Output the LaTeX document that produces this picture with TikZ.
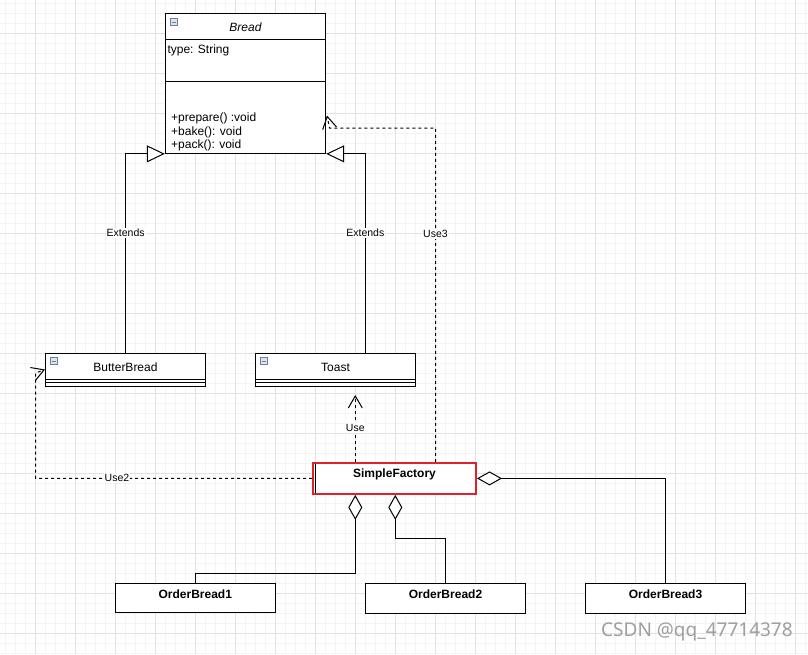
\documentclass[tikz,border=0pt]{standalone}
\usepackage{fontspec}
\setmainfont{Liberation Sans}
\newfontfamily\wmfont{Noto Sans}
\usetikzlibrary{arrows.meta}
\definecolor{gridmajor}{HTML}{E2E2E2}
\definecolor{gridminor}{HTML}{F4F4F4}
\definecolor{selred}{HTML}{E0202A}
\definecolor{iconborder}{HTML}{6F7F99}
\definecolor{iconfill}{HTML}{DCE4EE}
\tikzset{
  umlbox/.style={draw=black, line width=1pt, inner sep=0pt, fill=white},
  boxtext/.style={font=\fontsize{12}{14}\selectfont, inner sep=0pt},
  boldtext/.style={font=\fontsize{12}{14}\selectfont\bfseries, inner sep=0pt},
  lbl/.style={font=\fontsize{10.5}{12}\selectfont, fill=white, inner sep=1pt},
  conn/.style={line width=1pt, draw=black},
  dep/.style={conn, dash pattern=on 3pt off 3pt, -{Straight Barb[length=12pt,width=14pt]}},
  inh/.style={conn, -{Triangle[length=18pt,width=17pt,fill=white]}},
  agg/.style={conn, {Diamond[length=25pt,width=14pt,fill=white]}-},
  iconbox/.style={draw=iconborder, fill=iconfill, line width=0.6pt, minimum width=7pt, minimum height=7pt, inner sep=0pt},
}
\begin{document}
\begin{tikzpicture}[x=1pt,y=-1pt]
\useasboundingbox (0,0) rectangle (808,654);
\fill[white] (0,0) rectangle (808,654);
% grid
\foreach \i in {0,...,80} {\draw[gridminor, line width=1pt] (5.3+10*\i,0) -- (5.3+10*\i,654);}
\foreach \i in {0,...,65} {\draw[gridminor, line width=1pt] (0,3.3+10*\i) -- (808,3.3+10*\i);}
\foreach \i in {0,...,19} {\draw[gridmajor, line width=1pt] (35.3+40*\i,0) -- (35.3+40*\i,654);}
\foreach \i in {0,...,15} {\draw[gridmajor, line width=1pt] (0,33.3+40*\i) -- (808,33.3+40*\i);}

% Bread class
\node[umlbox, minimum width=160.4pt, minimum height=140.3pt] (bread) at (245.5,83.2) {};
\draw[line width=1pt] (bread.west |- 0,39.5) -- (bread.east |- 0,39.5);
\draw[line width=1pt] (bread.west |- 0,81.3) -- (bread.east |- 0,81.3);
\node[iconbox] (breadicon) at (174,22) {};
\draw[iconborder, line width=0.8pt] (172,22) -- (176,22);
\node[boxtext, font=\fontsize{12}{14}\selectfont\itshape] (breadtitle) at (245.5,27.5) {Bread};
\node[boxtext, anchor=west] (breadattr) at (167.3,50.5) {type: String};
\node[boxtext, anchor=west] (m1) at (171,118.5) {+prepare() :void};
\node[boxtext, anchor=west] (m2) at (171,132) {+bake(): void};
\node[boxtext, anchor=west] (m3) at (171,145.3) {+pack(): void};

% ButterBread
\node[umlbox, minimum width=159.6pt, minimum height=33.3pt] (bb) at (125.5,370.3) {};
\draw[line width=1pt] (bb.west |- 0,379.3) -- (bb.east |- 0,379.3);
\draw[line width=1pt] (bb.west |- 0,382.8) -- (bb.east |- 0,382.8);
\node[iconbox] (bbicon) at (53.7,361.2) {};
\draw[iconborder, line width=0.8pt] (51.7,361.2) -- (55.7,361.2);
\node[boxtext] (bbtext) at (125.5,367) {ButterBread};

% Toast
\node[umlbox, minimum width=159.6pt, minimum height=33.3pt] (toast) at (335.5,370.3) {};
\draw[line width=1pt] (toast.west |- 0,379.3) -- (toast.east |- 0,379.3);
\draw[line width=1pt] (toast.west |- 0,382.8) -- (toast.east |- 0,382.8);
\node[iconbox] (toasticon) at (263.7,361.2) {};
\draw[iconborder, line width=0.8pt] (261.7,361.2) -- (265.7,361.2);
\node[boxtext] (toasttext) at (335.5,367) {Toast};

% SimpleFactory
\node[umlbox, minimum width=159.5pt, minimum height=30pt] (sfin) at (395.5,478.3) {};
\node[draw=selred, line width=2pt, minimum width=163pt, minimum height=31pt, inner sep=0pt] (sf) at (394.5,478.4) {};
\node[boldtext] (sftext) at (394.5,474) {SimpleFactory};

% OrderBread boxes
\node[umlbox, minimum width=160pt, minimum height=29.5pt] (ob1) at (195.3,598.2) {};
\node[boldtext] (ob1text) at (195.3,594) {OrderBread1};
\node[umlbox, minimum width=160.4pt, minimum height=30pt] (ob2) at (445.5,598.3) {};
\node[boldtext] (ob2text) at (445.5,594) {OrderBread2};
\node[umlbox, minimum width=159.6pt, minimum height=30pt] (ob3) at (665.5,598.3) {};
\node[boldtext] (ob3text) at (665.5,594) {OrderBread3};

% Inheritance
\draw[inh] (bb.north) |- (bread.south west);
\draw[inh] ([xshift=29.8pt]toast.north) |- (bread.south east);
\node[lbl] (ext1) at (125.7,233) {Extends};
\node[lbl] (ext2) at (365.3,233) {Extends};

% Dependencies
\coordinate (usetip) at (355.3,395);
\draw[dep] (sf.north -| usetip) -- (usetip);
\node[lbl] (uselbl) at (355.3,428) {Use};

\coordinate (u2bend) at (35.7,373);
\coordinate (u2tip) at (45,369.5);
\draw[dep] (sf.west) -| (u2bend) -- (u2tip);
\node[lbl] (use2lbl) at (117,478) {Use2};

\coordinate (u3x) at (435.5,0);
\coordinate (u3bend) at (329.5,128);
\coordinate (u3tip) at (327,115.5);
\draw[dep] (sf.north -| u3x) |- (u3bend) -- (u3tip);
\node[lbl] (use3lbl) at (435.5,234) {Use3};

% Aggregations
\coordinate (a1) at (355.3,0);
\coordinate (a2) at (395.3,0);
\draw[agg] (sf.south -| a1) -- (355.3,573.3) -| (ob1.north);
\draw[agg] (sf.south -| a2) -- (395.3,538.3) -| (ob2.north);
\draw[agg] (sf.east) -| (ob3.north);

% watermark
\node[font=\wmfont\fontsize{19}{22}\selectfont, text=black!38, anchor=west, inner sep=0pt] (wm) at (601,632) {CSDN @qq\_47714378};
\end{tikzpicture}
\end{document}
